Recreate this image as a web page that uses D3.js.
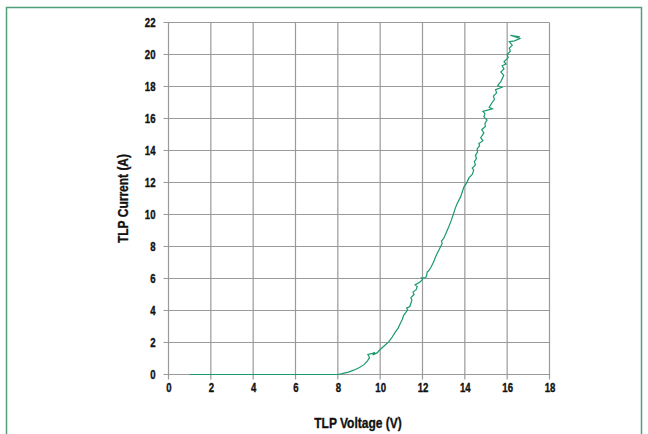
<!DOCTYPE html>
<html><head><meta charset="utf-8">
<script src="https://cdn.jsdelivr.net/npm/d3@7"></script>
<style>
html,body{margin:0;padding:0;background:#fff;}
text{font-family:"Liberation Sans",Arial,sans-serif;font-weight:bold;fill:#111;stroke:#111;stroke-width:0.35px;}
</style></head>
<body>
<svg id="c" width="648" height="434"></svg>
<script>
const xTicks = [0,2,4,6,8,10,12,14,16,18];
const yTicks = [0,2,4,6,8,10,12,14,16,18,20,22];
const voltage = [1.0,2,3,4,5,6,7,8.0,8.2,8.5,8.75,9.0,9.22,9.4,9.5,9.42,9.6,9.75,9.65,9.85,10.0,10.2,10.4,10.55,10.72,10.85,10.95,11.05,11.11,11.2,11.3,11.25,11.4,11.5,11.45,11.6,11.55,11.7,11.75,11.65,11.9,12.0,11.95,12.15,12.2,12.22,12.3,12.4,12.53,12.6,12.69,12.8,12.93,12.9,13.0,13.1,13.24,13.35,13.47,13.55,13.64,13.8,13.9,13.95,14.05,14.11,14.2,14.35,14.42,14.35,14.5,14.45,14.55,14.5,14.6,14.58,14.7,14.66,14.85,14.75,14.9,14.8,14.97,14.95,15.05,14.9,14.95,14.85,15.3,15.15,15.29,15.4,15.35,15.5,15.45,15.75,15.55,15.7,15.84,15.7,15.85,15.76,15.95,15.85,16.05,16.0,16.15,16.1,16.24,16.1,16.35,16.6,16.15,16.6];
const current = [0,0,0,0,0,0,0,0,0.05,0.15,0.27,0.42,0.6,0.85,1.05,1.25,1.3,1.38,1.22,1.35,1.56,1.8,2.04,2.3,2.66,2.9,3.19,3.45,3.7,3.85,4.05,4.15,4.25,4.64,4.8,5.0,5.15,5.3,5.5,5.6,5.8,5.95,6.05,6.06,6.2,6.4,6.5,6.7,7.04,7.3,7.56,7.85,8.19,8.35,8.5,8.8,9.23,9.6,10.06,10.4,10.69,11.1,11.5,11.7,11.9,12.04,12.3,12.5,12.77,12.9,13.1,13.3,13.5,13.7,13.9,14.1,14.3,14.44,14.6,14.8,15.1,15.3,15.5,15.69,15.9,16.1,16.3,16.45,16.6,16.7,17.0,17.2,17.4,17.6,17.8,17.95,18.05,18.3,18.7,18.9,19.1,19.3,19.4,19.55,19.8,20.0,20.2,20.4,20.58,20.8,20.85,21.0,21.2,21.1];
const xTitle = "TLP Voltage (V)";
const yTitle = "TLP Current (A)";

const svg = d3.select("#c");
svg.append("rect").attr("x",6.5).attr("y",7.5).attr("width",635).attr("height",440)
  .attr("fill","none").attr("stroke","#4f9f7b").attr("stroke-width",1.5);

const L=168.5, R=549.5, T=22.5, B=374.5;
const x = d3.scaleLinear().domain([0,18]).range([L,R]);
const y = d3.scaleLinear().domain([0,22]).range([B,T]);
const gc = "#9a9a9a";
const SX = 0.8;

const g = svg.append("g");
g.selectAll(".vg").data(xTicks).join("line")
  .attr("x1",d=>x(d)).attr("x2",d=>x(d)).attr("y1",T).attr("y2",B+5)
  .attr("stroke",gc).attr("stroke-width",1.2);
g.selectAll(".hg").data(yTicks).join("line")
  .attr("x1",L-5).attr("x2",R).attr("y1",d=>y(d)).attr("y2",d=>y(d))
  .attr("stroke",gc).attr("stroke-width",1.2);

const xa = svg.append("g").attr("transform",`translate(0,${B})`)
  .call(d3.axisBottom(x).tickValues(xTicks).tickSize(0).tickPadding(9).tickFormat(d3.format("d")));
const ya = svg.append("g").attr("transform",`translate(${L},0)`)
  .call(d3.axisLeft(y).tickValues(yTicks).tickSize(0).tickPadding(13).tickFormat(d3.format("d")));
[xa,ya].forEach(a=>{a.select(".domain").remove(); a.selectAll("text").attr("font-size",12).style("font-family",'"Liberation Sans",Arial,sans-serif').style("font-weight","bold").attr("fill","#111").attr("stroke","#111").attr("stroke-width",0.35);});
xa.selectAll("text").attr("transform",`scale(${SX},1)`);
ya.selectAll("text").attr("x",-13/SX).attr("transform",`scale(${SX},1)`);

const pts = voltage.map((v,i)=>[v,current[i]]);
svg.append("path").datum(pts)
  .attr("d", d3.line().x(d=>x(d[0])).y(d=>y(d[1])))
  .attr("fill","none").attr("stroke","#1a9a6a").attr("stroke-width",1.2);

svg.append("text").attr("transform",`translate(${(L+R)/2-1},428) scale(${SX},1)`).attr("text-anchor","middle")
  .attr("font-size",15).text(xTitle);
svg.append("text").attr("transform",`translate(128,${(T+B)/2}) rotate(-90) scale(${SX},1)`)
  .attr("text-anchor","middle").attr("font-size",15).text(yTitle);
</script>
</body></html>
